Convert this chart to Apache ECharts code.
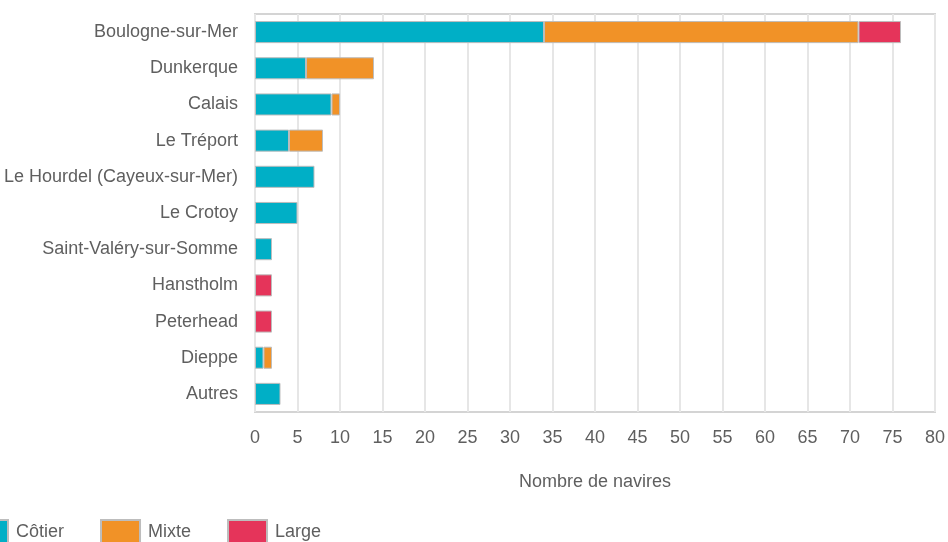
<!DOCTYPE html>
<html>
<head>
<meta charset="utf-8">
<script src="https://cdn.jsdelivr.net/npm/echarts@6/dist/echarts.min.js"></script>
<style>
  html, body { margin: 0; padding: 0; background: #fff; }
  #chart { width: 948px; height: 542px; }
</style>
</head>
<body>
<div id="chart"></div>
<script>
"use strict"

// ports, top to bottom as drawn
const ports = [
  "Boulogne-sur-Mer",
  "Dunkerque",
  "Calais",
  "Le Tréport",
  "Le Hourdel (Cayeux-sur-Mer)",
  "Le Crotoy",
  "Saint-Valéry-sur-Somme",
  "Hanstholm",
  "Peterhead",
  "Dieppe",
  "Autres"
];

const cotier = [34, 6, 9, 4, 7, 5, 2, 0, 0, 1, 3];
const mixte  = [37, 8, 1, 4, 0, 0, 0, 0, 0, 1, 0];
const large  = [5, 0, 0, 0, 0, 0, 0, 2, 2, 0, 0];

const textFont = "'Liberation Sans Narrow', 'Arial Narrow', 'Liberation Sans', sans-serif";
const textColor = "#5f5f5f";

// category axis reads bottom-up, so flip everything
const rev = (arr) => arr.slice().reverse();

const makeSeries = (name, values, color) => ({
  name: name,
  type: "bar",
  stack: "total",
  barWidth: "61%",
  data: rev(values).map(v => (v === 0 ? null : v)),
  itemStyle: { color: color, borderColor: "#bdbdbd", borderWidth: 1 }
});

const chart = echarts.init(document.getElementById("chart"));

chart.setOption({
  animation: false,
  textStyle: { fontFamily: textFont },
  grid: {
    left: 255, right: 11, top: 14, bottom: 130,
    show: true, borderColor: "#d4d4d4", borderWidth: 2
  },
  legend: {
    left: -37, top: 514,
    itemWidth: 39, itemHeight: 24, itemGap: 36,
    icon: "rect",
    textStyle: { fontSize: 18, color: textColor, fontFamily: textFont, padding: [0, 0, 0, 3] },
    data: ["Côtier", "Mixte", "Large"]
  },
  xAxis: {
    type: "value",
    min: 0, max: 80, interval: 5,
    name: "Nombre de navires",
    nameLocation: "middle",
    nameGap: 61,
    nameTextStyle: { fontSize: 18, color: textColor },
    axisLine: { show: false },
    axisTick: { show: false },
    axisLabel: { fontSize: 18, color: textColor, margin: 17 },
    splitLine: { lineStyle: { color: "#e6e6e6", width: 2 } }
  },
  yAxis: {
    type: "category",
    data: rev(ports),
    axisLine: { show: false },
    axisTick: { show: false },
    axisLabel: { fontSize: 18, color: textColor, margin: 17 }
  },
  series: [
    makeSeries("Côtier", cotier, "#00afc6"),
    makeSeries("Mixte", mixte, "#f19227"),
    makeSeries("Large", large, "#e5345a")
  ]
});
</script>
</body>
</html>
